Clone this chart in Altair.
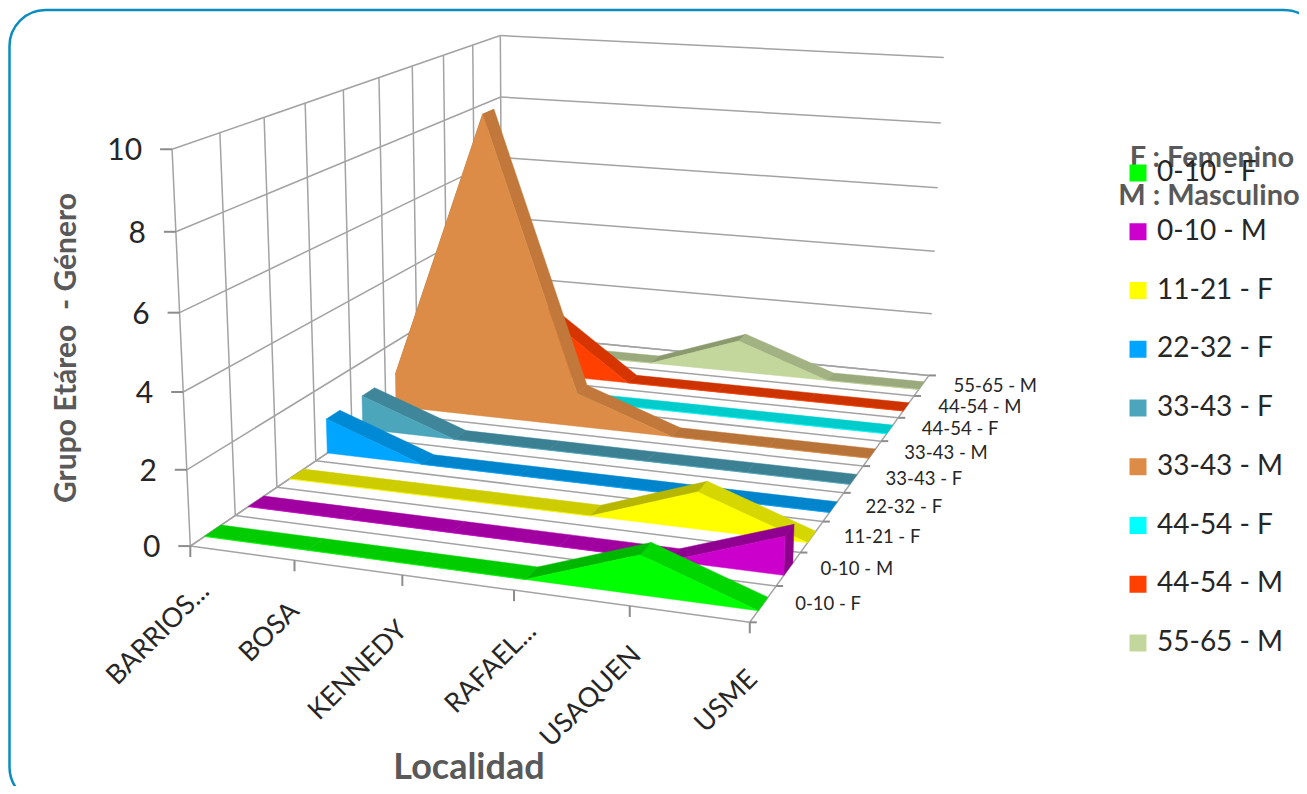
import altair as alt
import numpy as np
import pandas as pd

localidades = ["BARRIOS...", "BOSA", "KENNEDY", "RAFAEL...", "USAQUEN", "USME"]
series = ["0-10 - F", "0-10 - M", "11-21 - F", "22-32 - F", "33-43 - F",
          "33-43 - M", "44-54 - F", "44-54 - M", "55-65 - M"]
v_0_10_f = [0, 0, 0, 0, 1, 0]
v_0_10_m = [0, 0, 0, 0, 0, 1]
v_11_21_f = [0, 0, 0, 0, 1, 0]
v_22_32_f = [1, 0, 0, 0, 0, 0]
v_33_43_f = [1, 0, 0, 0, 0, 0]
v_33_43_m = [1, 9, 1, 0, 0, 0]
v_44_54_f = [0, 0, 0, 0, 0, 0]
v_44_54_m = [0, 2, 0, 0, 0, 0]
v_55_65_m = [0, 0, 0, 1, 0, 0]
valores = [v_0_10_f, v_0_10_m, v_11_21_f, v_22_32_f, v_33_43_f,
           v_33_43_m, v_44_54_f, v_44_54_m, v_55_65_m]
y_ticks = [0, 2, 4, 6, 8, 10]

front_colors = ["#00FF00", "#CC00CC", "#FFFF00", "#00A5FF", "#4BA6BC",
                "#DC8C46", "#00FFFF", "#FF4000", "#C3D69B"]
top_colors = ["#00CC00", "#A000A0", "#CCCC00", "#0084CC", "#3C8093",
              "#B87338", "#00CCCC", "#CC3300", "#9BAA7C"]

# camera calibration of the 3D box: (category 0-1, depth 0-1, value) -> page pixel
calib = [
    (0, 0, 0, 190, 546), (0, 0, 2, 186, 470), (0, 0, 4, 183, 392), (0, 0, 6, 180, 312),
    (0, 0, 8, 176, 231), (0, 0, 10, 172.5, 149), (1, 0, 0, 750, 622), (.2, 0, 0, 295, 561),
    (.4, 0, 0, 402, 577), (.6, 0, 0, 514, 590), (.8, 0, 0, 630, 605), (1, 1, 0, 928, 376),
    (1, 4/9, 0, 844, 493), (1, 1, 10, 944, 58), (1, 1, 8, 941, 122), (0, 1, 10, 500, 35),
    (0, 1, 8, 501, 97), (0, 1, 6, 503, 158), (0, 1/9, 0, 235, 515), (0, 2/9, 0, 277, 487),
    (0, 3/9, 0, 316, 460), (0, 1/9, 10, 220, 133), (0, 2/9, 10, 265, 118), (0, 3/9, 10, 305, 103),
    (0, 4/9, 10, 343, 91), (0, 5/9, 10, 378, 78), (0, 6/9, 10, 412, 66), (0, 7/9, 10, 443, 55),
    (0, 8/9, 10, 472, 45),
]
A, b = [], []
for u, z, v, PX, PY in calib:
    A.append([u, z, v, 1, 0, 0, 0, 0, -PX*u, -PX*z, -PX*v]); b.append(PX)
    A.append([0, 0, 0, 0, u, z, v, 1, -PY*u, -PY*z, -PY*v]); b.append(PY)
P = np.linalg.lstsq(np.array(A, float), np.array(b, float), rcond=None)[0]


def pexpr(u, z, v):
    w = f"({P[8]:.8f}*{u}+{P[9]:.8f}*{z}+{P[10]:.8f}*{v}+1)"
    x = f"({P[0]:.6f}*{u}+{P[1]:.6f}*{z}+{P[2]:.6f}*{v}+{P[3]:.6f})/{w}"
    y = f"({P[4]:.6f}*{u}+{P[5]:.6f}*{z}+{P[6]:.6f}*{v}+{P[7]:.6f})/{w}"
    return x, y


def d(f):
    return f"datum.{f}"


def project(ch, suffix=""):
    x, y = pexpr(d("u" + suffix), d("z" + suffix), d("v" + suffix))
    return ch.transform_calculate(**{"px" + suffix: x, "py" + suffix: y})


W, H = 1291, 778
XS = alt.Scale(domain=[8, 8 + W], nice=False, zero=False)
YS = alt.Scale(domain=[8 + H, 8], nice=False, zero=False)
X = alt.X("px:Q", scale=XS, axis=None)
Y = alt.Y("py:Q", scale=YS, axis=None)

# ---- frame
frame_df = pd.DataFrame([{"a": 9.5, "b": 1320, "c": 10, "e": 803}])
frame = alt.Chart(frame_df).mark_rect(
    fill="white", stroke="#0A8CBE", strokeWidth=2.5, cornerRadius=36
).encode(
    x=alt.X("a:Q", scale=XS, axis=None), x2="b:Q",
    y=alt.Y("c:Q", scale=YS, axis=None), y2="e:Q",
)

# ---- grid
N = len(series)
grid = []
for k in y_ticks:
    grid.append((0, 0, k, 0, 1, k))   # left wall
    grid.append((0, 1, k, 1, 1, k))   # back wall
for j in range(N + 1):
    grid.append((0, j / N, 0, 1, j / N, 0))   # floor
    grid.append((0, j / N, 0, 0, j / N, 10))  # left wall verticals
grid.append((1, 0, 0, 1, 1, 0))
grid.append((0, 0, 0, 0, 1, 0))
grid_df = pd.DataFrame(grid, columns=["u", "z", "v", "u2", "z2", "v2"])
grid_layer = project(project(alt.Chart(grid_df)), "2").mark_rule(
    color="#A3A3A3", strokeWidth=1.5
).encode(x=X, y=Y, x2="px2:Q", y2="py2:Q")

# ---- ticks
ticks = []
for k in y_ticks:
    ticks.append((0, 0, k, -12, 0))
for i in range(len(localidades)):
    ticks.append((i / 5, 0, 0, 0, 11))
for j in range(N + 1):
    ticks.append((1, j / N, 0, 7, 0))
ticks_df = pd.DataFrame(ticks, columns=["u", "z", "v", "ox", "oy"])
tick_layer = project(alt.Chart(ticks_df)).transform_calculate(
    px2="datum.px+datum.ox", py2="datum.py+datum.oy"
).mark_rule(color="#8C8C8C", strokeWidth=2).encode(x=X, y=Y, x2="px2:Q", y2="py2:Q")

# ---- ribbons, back to front
rows = []
Z0, Z1 = 0.31, 0.68


def shade(hexcol, f):
    r, g, bb = int(hexcol[1:3], 16), int(hexcol[3:5], 16), int(hexcol[5:7], 16)
    return "#%02X%02X%02X" % (min(255, int(r * f)), min(255, int(g * f)), min(255, int(bb * f)))


def poly(name, col, verts):
    for k, (u, z, v) in enumerate(verts):
        rows.append({"poly": name, "col": col, "k": k, "u": u, "z": z, "v": v})


for j in range(N - 1, -1, -1):
    vals = valores[j]
    z0, z1 = (j + Z0) / N, (j + Z1) / N
    for i in range(5):
        a, c = vals[i], vals[i + 1]
        f = 0.9 if c > a else (1.05 if c < a else 1.0)
        poly(f"t{j}_{i}", shade(top_colors[j], f),
             [(i / 5, z0, a), ((i + 1) / 5, z0, c), ((i + 1) / 5, z1, c), (i / 5, z1, a)])
    if vals[5] > 0:
        poly(f"c{j}", shade(top_colors[j], 0.88),
             [(1, z0, 0), (1, z0, vals[5]), (1, z1, vals[5]), (1, z1, 0)])
    front = [(0, z0, 0)] + [(i / 5, z0, vals[i]) for i in range(6)] + [(1, z0, 0)]
    poly(f"f{j}", front_colors[j], front)
poly_df = pd.DataFrame(rows)
ribbons = project(alt.Chart(poly_df)).mark_line(
    interpolate="linear-closed", strokeWidth=0.5
).encode(
    x=X, y=Y,
    detail="poly:N",
    order=alt.Order("k:Q"),
    fill=alt.Fill("col:N", scale=None),
    stroke=alt.Stroke("col:N", scale=None),
)

# ---- text
FONT = "Lato"
y_lab_df = pd.DataFrame({"u": 0, "z": 0, "v": y_ticks, "t": [str(k) for k in y_ticks]})
y_labs = project(alt.Chart(y_lab_df)).mark_text(
    font=FONT, fontSize=30, align="right", baseline="middle", color="#262626", dx=-30, dy=2
).encode(x=X, y=Y, text="t:N")

x_end_x = [205, 295, 403, 532, 637, 753]
x_end_y = [587, 607, 626, 627, 651, 675]
x_lab_df = pd.DataFrame({"px": x_end_x, "py": x_end_y, "t": localidades})
x_labs = alt.Chart(x_lab_df).mark_text(
    font=FONT, fontSize=27, align="right", baseline="middle", angle=315, color="#262626"
).encode(x=X, y=Y, text="t:N")

z_lab_df = pd.DataFrame({"u": 1, "z": [(j + .5) / N for j in range(N)], "v": 0, "t": series})
z_labs = project(alt.Chart(z_lab_df)).mark_text(
    font=FONT, fontSize=18.5, align="left", baseline="middle", color="#262626", dx=32
).encode(x=X, y=Y, text="t:N")

titles_df = pd.DataFrame([
    {"px": 67, "py": 348, "t": "Grupo Etáreo\u00a0\u00a0- Género", "s": 30, "an": 270},
    {"px": 469, "py": 768, "t": "Localidad", "s": 36, "an": 0},
    {"px": 1212, "py": 158, "t": "F : Femenino", "s": 29, "an": 0},
    {"px": 1209, "py": 196, "t": "M : Masculino", "s": 29, "an": 0},
])
titles = alt.Chart(titles_df).mark_text(
    font=FONT, fontWeight="bold", align="center", baseline="middle", color="#595959"
).encode(
    x=X, y=Y, text="t:N",
    size=alt.Size("s:Q", scale=None),
    angle=alt.Angle("an:Q", scale=None),
)

# ---- legend
leg_df = pd.DataFrame({"serie": series, "px": 0, "py": 0})
legend = alt.Chart(leg_df).mark_point(filled=True, size=0, opacity=0, shape="square").encode(
    x=X, y=Y,
    fill=alt.Fill(
        "serie:N",
        scale=alt.Scale(domain=series, range=front_colors),
        legend=alt.Legend(
            orient="none", legendX=1116, legendY=151, title=None, padding=0,
            symbolType="square", symbolSize=289, symbolStrokeWidth=0, symbolOpacity=1,
            labelFont=FONT, labelFontSize=28, labelColor="#262626", labelOffset=5,
            rowPadding=30.75,
        ),
    ),
)

chart = alt.layer(
    frame, grid_layer, tick_layer, ribbons, y_labs, x_labs, z_labs, titles, legend
).properties(
    width=W, height=H, padding=0, background="white",
    autosize=alt.AutoSizeParams(type="none"),
).configure_view(stroke=None)

chart.save("out.html", embed_options={"renderer": "svg", "actions": False})
